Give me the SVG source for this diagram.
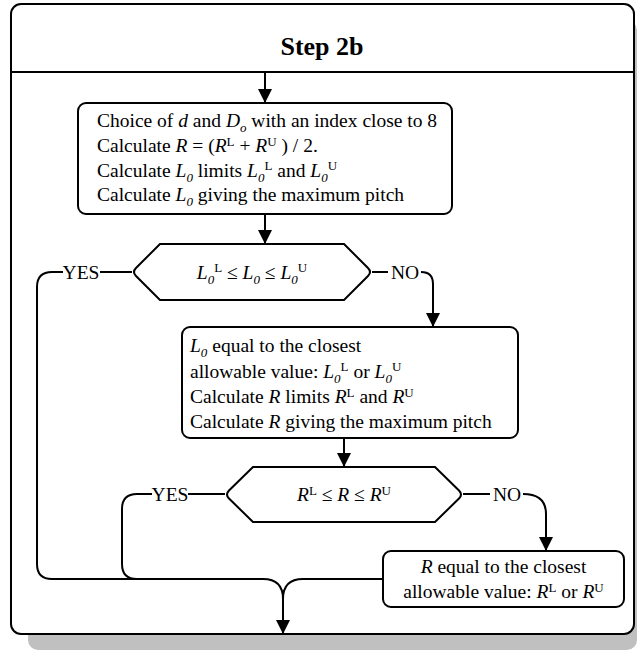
<svg xmlns="http://www.w3.org/2000/svg" width="637" height="651" viewBox="0 0 637 651">
<defs>
<style>
.t{font-family:"Liberation Serif","Times New Roman",serif;font-size:19.5px;fill:#000}
.b{font-weight:bold;font-size:26px}
.i{font-style:italic}
.sb{font-size:13px;font-style:italic}
.sp{font-size:13px}
.box{fill:#fff;stroke:#000;stroke-width:2}
.ln{fill:none;stroke:#000;stroke-width:2}
</style>
<marker id="ah" markerUnits="userSpaceOnUse" markerWidth="14" markerHeight="14" refX="14" refY="7" orient="auto">
<path d="M0,0 L14,7 L0,14 Z" fill="#000"/>
</marker>
</defs>
<rect x="28" y="20" width="609" height="630" rx="10" fill="#c0c0c0"/>
<g id="frame">
<rect x="11" y="4" width="623" height="630" rx="10" class="box"/>
<line x1="11" y1="72" x2="634" y2="72" class="ln"/>
<text x="322" y="55" class="t b" text-anchor="middle">Step 2b</text>
</g>
<g id="connectors">
<path class="ln" d="M265,72 V103" marker-end="url(#ah)"/>
<path class="ln" d="M265,214 V244" marker-end="url(#ah)"/>
<path class="ln" d="M132,272 H100"/>
<path class="ln" d="M63,272 H52 Q37,272 37,287 V564 Q37,579 52,579 H263 Q283,579 283,599 V634" marker-end="url(#ah)"/>
<path class="ln" d="M372,272 H388"/>
<path class="ln" d="M421,272 Q433,272 433,284 V327" marker-end="url(#ah)"/>
<path class="ln" d="M344,438 V467" marker-end="url(#ah)"/>
<path class="ln" d="M225,494 H188"/>
<path class="ln" d="M152,494 H137 Q122,494 122,509 V564 Q122,579 137,579"/>
<path class="ln" d="M463,494 H490"/>
<path class="ln" d="M523,494 Q546,494 546,514 V551" marker-end="url(#ah)"/>
<path class="ln" d="M383,579 H303 Q283,579 283,599"/>
<text class="t" x="81" y="279" text-anchor="middle">YES</text>
<text class="t" x="405" y="279" text-anchor="middle">NO</text>
<text class="t" x="170" y="501" text-anchor="middle">YES</text>
<text class="t" x="507" y="501" text-anchor="middle">NO</text>
</g>
<g id="box1">
<rect x="78" y="103" width="374" height="111" rx="8" class="box"/>
<text class="t" x="97" y="127">Choice of <tspan class="i">d</tspan> and <tspan class="i">D</tspan><tspan class="sb" dy="5">o</tspan><tspan dy="-5"> with an index close to 8</tspan></text>
<text class="t" x="97" y="152">Calculate <tspan class="i">R</tspan> = (<tspan class="i">R</tspan><tspan class="sp" dy="-6">L</tspan><tspan dy="6"> + </tspan><tspan class="i">R</tspan><tspan class="sp" dy="-6">U</tspan><tspan dy="6"> ) / 2.</tspan></text>
<text class="t" x="97" y="177">Calculate <tspan class="i">L</tspan><tspan class="sb" dy="5">0</tspan><tspan dy="-5"> limits </tspan><tspan class="i">L</tspan><tspan class="sb" dy="5">0</tspan><tspan class="sp" dy="-12">L</tspan><tspan dy="7"> and </tspan><tspan class="i">L</tspan><tspan class="sb" dy="5">0</tspan><tspan class="sp" dy="-12">U</tspan></text>
<text class="t" x="97" y="201">Calculate <tspan class="i">L</tspan><tspan class="sb" dy="5">0</tspan><tspan dy="-5"> giving the maximum pitch</tspan></text>
</g>
<g id="decision1">
<path class="box" d="M160,244 H344 L368,268 Q372,272 368,276 L344,300 H160 L136,276 Q132,272 136,268 Z"/>
<text class="t" x="252" y="279" text-anchor="middle"><tspan class="i">L</tspan><tspan class="sb" dy="5">0</tspan><tspan class="sp" dy="-12">L</tspan><tspan dy="7"> ≤ </tspan><tspan class="i">L</tspan><tspan class="sb" dy="5">0</tspan><tspan dy="-5"> ≤ </tspan><tspan class="i">L</tspan><tspan class="sb" dy="5">0</tspan><tspan class="sp" dy="-12">U</tspan></text>
</g>
<g id="box2">
<rect x="182" y="327" width="336" height="111" rx="8" class="box"/>
<text class="t" x="190" y="352"><tspan class="i">L</tspan><tspan class="sb" dy="5">0</tspan><tspan dy="-5"> equal to the closest</tspan></text>
<text class="t" x="190" y="378">allowable value:  <tspan class="i">L</tspan><tspan class="sb" dy="5">0</tspan><tspan class="sp" dy="-12">L</tspan><tspan dy="7"> or </tspan><tspan class="i">L</tspan><tspan class="sb" dy="5">0</tspan><tspan class="sp" dy="-12">U</tspan></text>
<text class="t" x="190" y="403">Calculate <tspan class="i">R</tspan> limits <tspan class="i">R</tspan><tspan class="sp" dy="-6">L</tspan><tspan dy="6"> and </tspan><tspan class="i">R</tspan><tspan class="sp" dy="-6">U</tspan></text>
<text class="t" x="190" y="428">Calculate <tspan class="i">R</tspan> giving the maximum pitch</text>
</g>
<g id="decision2">
<path class="box" d="M253,467 H435 L459,490.5 Q463,494.5 459,498.5 L435,522 H253 L229,498.5 Q225,494.5 229,490.5 Z"/>
<text class="t" x="344" y="501" text-anchor="middle"><tspan class="i">R</tspan><tspan class="sp" dy="-6">L</tspan><tspan dy="6"> ≤ </tspan><tspan class="i">R</tspan> ≤ <tspan class="i">R</tspan><tspan class="sp" dy="-6">U</tspan></text>
</g>
<g id="box3">
<rect x="383" y="551" width="241" height="56" rx="8" class="box"/>
<text class="t" x="503.5" y="573" text-anchor="middle"><tspan class="i">R</tspan> equal to the closest</text>
<text class="t" x="503.5" y="598" text-anchor="middle">allowable value: <tspan class="i">R</tspan><tspan class="sp" dy="-6">L</tspan><tspan dy="6"> or </tspan><tspan class="i">R</tspan><tspan class="sp" dy="-6">U</tspan></text>
</g>
</svg>
